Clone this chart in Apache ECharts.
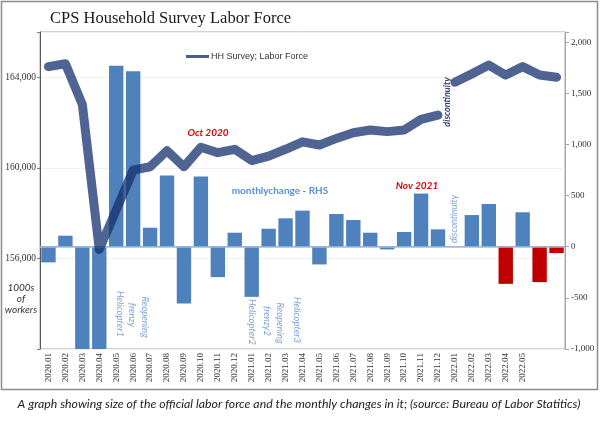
<!DOCTYPE html>
<html><head><meta charset="utf-8">
<script src="https://cdn.jsdelivr.net/npm/echarts@6/dist/echarts.min.js"></script>
<style>html,body{margin:0;padding:0;background:#fff}#c{width:600px;height:426px}</style>
</head><body><div id="c"></div>
<script>
const categories = ['2020.01','2020.02','2020.03','2020.04','2020.05','2020.06','2020.07','2020.08','2020.09','2020.10','2020.11','2020.12',
  '2021.01','2021.02','2021.03','2021.04','2021.05','2021.06','2021.07','2021.08','2021.09','2021.10','2021.11','2021.12',
  '2022.01','2022.02','2022.03','2022.04','2022.05','2022.06','2022.07'];
const tickLabels = ['2020.01','2020.02','2020.03','2020.04','2020.05','2020.06','2020.07','2020.08','2020.09','2020.10','2020.11','2020.12',
  '2021.01','2021.02','2021.03','2021.04','2021.05','2021.06','2021.07','2021.08','2021.09','2021.10','2021.11','2021.12',
  '2022.01','2022.02','2022.03','2022.04','2022.05'];
const laborForce = [164470,164600,162800,156400,158140,159900,160050,160760,160050,160910,160670,160820,
  160320,160520,160820,161150,161010,161300,161550,161670,161600,161670,162140,162330,
  163780,164150,164540,164100,164470,164100,164000];
const monthlyChange = [-153,108,-1600,-6400,1771,1716,186,696,-555,686,-297,137,
  -490,176,278,353,-173,320,261,137,-26,144,520,170,
  null,310,418,-363,337,-346,-62];
const flaggedMonths = ['2022.04','2022.06','2022.07'];
const discontinuityMonth = '2022.01';
const leftTicks = [156000,160000,164000];
const rightTicks = [-1000,-500,0,500,1000,1500,2000];

const di = categories.indexOf(discontinuityMonth);
const seg1 = laborForce.map((v,i)=> i < di ? v : null);
const seg2 = laborForce.map((v,i)=> i >= di ? v : null);
const barData = monthlyChange.map((v,i)=> flaggedMonths.includes(categories[i]) ? {value:v, itemStyle:{color:'#c00000'}} : v);
const fmt = v => v.toLocaleString('en-US');

const lineName = 'HH Survey; Labor Force';
const lineStyle = {width:9, color:'#14306e', opacity:0.75, cap:'round', join:'round'};
const serif = 'Liberation Serif';
const sans = 'Lato';

function txt(x,y,text,opt){
  return {type:'text', x:x, y:y, rotation:opt.rot||0, z:100,
    style:{text:text, fill:opt.color||'#333', fontSize:opt.size||10, fontFamily:opt.family||sans,
      fontStyle:opt.style||'normal', fontWeight:opt.weight||'normal', align:'center', verticalAlign:'middle'}};
}
const blue = '#7fa5db';
const chart = echarts.init(document.getElementById('c'), null, {renderer:'canvas'});
chart.setOption({
  animation:false,
  backgroundColor:'#fff',
  title:{text:'CPS Household Survey Labor Force', left:45, top:5,
    textStyle:{fontFamily:serif, fontSize:16.5, fontWeight:'normal', color:'#1a1a1a'}},
  legend:{data:[lineName], left:181, top:47, icon:'rect', itemWidth:23, itemHeight:3, itemGap:4,
    itemStyle:{color:'#4a5e8c'},
    textStyle:{fontFamily:'Liberation Sans', fontSize:9, color:'#333', padding:[0,0,0,-3]}},
  grid:{left:40, right:35, top:32, bottom:77, show:true, borderColor:'#a6a6a6', borderWidth:1},
  xAxis:{type:'category', data:categories, boundaryGap:true,
    axisLine:{lineStyle:{color:'#a6a6a6'}}, axisTick:{show:false},
    axisLabel:{interval:0, rotate:90, margin:4, fontFamily:serif, fontSize:9, color:'#333',
      formatter:(v,i)=> tickLabels[i] || ''}},
  yAxis:[
    {type:'value', min:152000, max:166000, interval:4000, position:'left',
      axisLine:{show:true, lineStyle:{color:'#595959'}},
      axisTick:{show:true, length:3, lineStyle:{color:'#7f7f7f'}},
      splitLine:{show:true, lineStyle:{color:'#f0f0f0'}},
      axisLabel:{margin:4, fontFamily:serif, fontSize:9.5, color:'#2b2f3a',
        formatter:v=> leftTicks.includes(v) ? fmt(v) : ''}},
    {type:'value', min:-1000, max:2100, interval:500, position:'right',
      axisLine:{show:true, lineStyle:{color:'#a6a6a6'}},
      axisTick:{show:true, length:4, lineStyle:{color:'#a6a6a6'}},
      splitLine:{show:false},
      axisLabel:{margin:6, fontFamily:serif, fontSize:9, color:'#2b2f3a',
        formatter:v=> rightTicks.includes(v) ? fmt(v) : ''}}
  ],
  series:[
    {name:'monthly change', type:'bar', yAxisIndex:1, data:barData, barCategoryGap:'15%',
      itemStyle:{color:'#4f81bd'}, z:2, clip:true,
      markLine:{silent:true, symbol:'none', label:{show:false},
        lineStyle:{color:'#9cbbe3', width:1.5, type:'solid'}, data:[{yAxis:0}]}},
    {name:lineName, type:'line', yAxisIndex:0, data:seg1, symbol:'none', showSymbol:false,
      lineStyle:lineStyle, itemStyle:{color:'#4a5e8c'}, z:5, connectNulls:false},
    {name:lineName, type:'line', yAxisIndex:0, data:seg2, symbol:'none', showSymbol:false,
      lineStyle:lineStyle, itemStyle:{color:'#4a5e8c'}, z:5, connectNulls:false}
  ],
  graphic:[
    {type:'rect', shape:{x:1.5, y:1.5, width:596, height:388}, style:{fill:null, stroke:'#8c8c8c', lineWidth:1.5}, z:0, silent:true},
    txt(208,133,'Oct 2020',{color:'#e00000', weight:'bold', style:'italic', size:10}),
    txt(417,186,'Nov 2021',{color:'#e00000', weight:'bold', style:'italic', size:10}),
    txt(280,191,'monthlychange - RHS',{color:'#5b8fd4', weight:'bold', size:10}),
    txt(447,102,'discontinuity',{color:'#2a3f6e', weight:'bold', style:'italic', size:9, rot:Math.PI/2}),
    txt(454,219,'discontinuity',{color:blue, style:'italic', size:9, rot:Math.PI/2}),
    txt(120,314,'Helicopter1',{color:blue, style:'italic', size:9.5, rot:-Math.PI/2}),
    txt(145,317,'Reopening',{color:blue, style:'italic', size:9.5, rot:-Math.PI/2}),
    txt(132,315,'frenzy',{color:blue, style:'italic', size:9.5, rot:-Math.PI/2}),
    txt(252,322,'Helicopter2',{color:blue, style:'italic', size:9.5, rot:-Math.PI/2}),
    txt(280,323,'Reopening',{color:blue, style:'italic', size:9.5, rot:-Math.PI/2}),
    txt(267,321,'frenzy2',{color:blue, style:'italic', size:9.5, rot:-Math.PI/2}),
    txt(297,320,'Helicopter3',{color:blue, style:'italic', size:9.5, rot:-Math.PI/2}),
    txt(21,288,'1000s',{color:'#333', style:'italic', size:10}),
    txt(21,299,'of',{color:'#333', style:'italic', size:10}),
    txt(21,310,'workers',{color:'#333', style:'italic', size:10}),
    txt(299,404,'A graph showing size of the official labor force and the monthly changes in it; (source: Bureau of Labor Statitics)',{color:'#222', style:'italic', size:12.3})
  ]
});
</script></body></html>
